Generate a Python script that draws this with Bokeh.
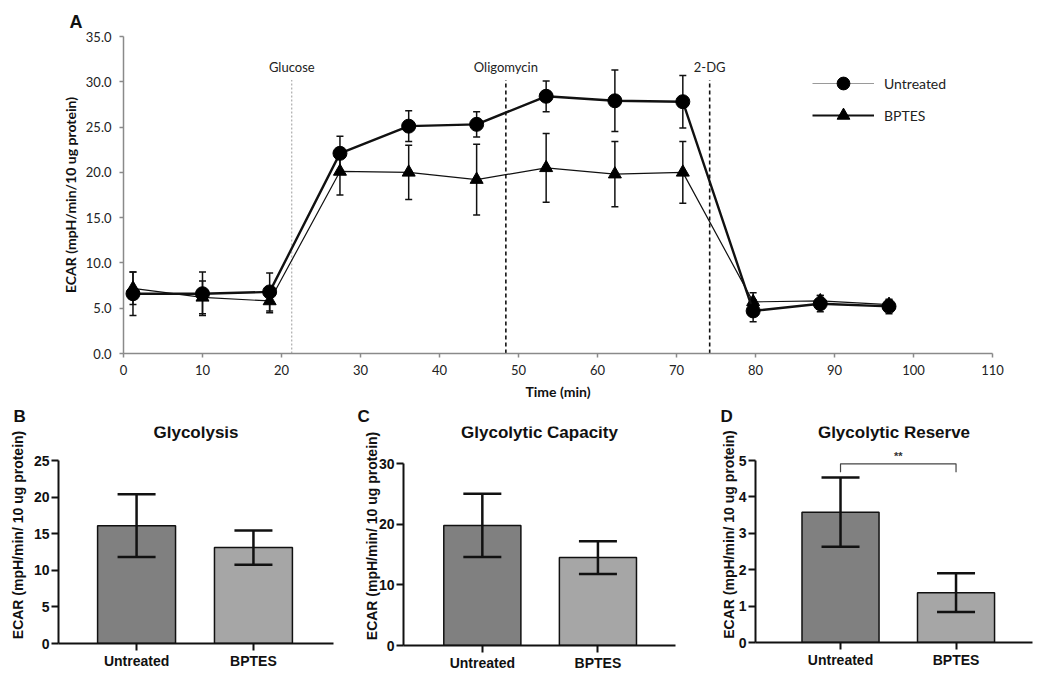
from bokeh.plotting import figure
from bokeh.layouts import column, row
from bokeh.models import (ColumnDataSource, Whisker, TeeHead, Legend, LegendItem,
                          SingleIntervalTicker, FixedTicker, NumeralTickFormatter, Range1d)
from bokeh.core.properties import value
from bokeh.embed import file_html
from bokeh.resources import INLINE

# ---------------- data: panel A (ECAR time course) ----------------
time_min = [1.2, 10.0, 18.5, 27.4, 36.1, 44.7, 53.5, 62.2, 70.8, 79.7, 88.2, 96.9]
untreated = [6.6, 6.6, 6.8, 22.1, 25.1, 25.3, 28.4, 27.9, 27.8, 4.7, 5.5, 5.2]
untreated_err = [2.4, 2.4, 2.1, 1.9, 1.7, 1.4, 1.7, 3.4, 2.9, 1.2, 0.9, 0.8]
bptes = [7.2, 6.2, 5.8, 20.1, 20.0, 19.2, 20.5, 19.8, 20.0, 5.7, 5.8, 5.4]
bptes_err = [1.8, 1.8, 1.3, 2.6, 3.0, 3.9, 3.8, 3.6, 3.4, 1.0, 0.6, 0.5]
injection_names = ["Glucose", "Oligomycin", "2-DG"]
injection_times = [21.3, 48.4, 74.2]

# ---------------- data: panels B-D ----------------
groups = ["Untreated", "BPTES"]
glycolysis = [16.1, 13.1]
glycolysis_err = [4.3, 2.35]
capacity = [19.8, 14.5]
capacity_err = [5.2, 2.7]
reserve = [3.58, 1.37]
reserve_err = [0.95, 0.53]
bar_colors = ["#808080", "#a6a6a6"]
significance = "**"

TOPFONT = "Lato"
ARIAL = "Liberation Sans"
NAN = float("nan")

# ---------------- panel A ----------------
pA = figure(frame_width=869, frame_height=317, min_border_left=123, min_border_right=50,
            min_border_top=36, min_border_bottom=50, x_range=Range1d(0, 110),
            y_range=Range1d(0, 35), output_backend="svg", toolbar_location=None)
pA.outline_line_color = None
pA.grid.visible = False
pA.title.text = "A"
pA.title.align = "left"
pA.title.offset = -54
pA.title.standoff = 10
pA.title.text_font = ARIAL
pA.title.text_font_size = "18px"
pA.title.text_font_style = "bold"
pA.title.text_color = "#111111"

for ax in (pA.xaxis[0], pA.yaxis[0]):
    ax.axis_line_color = "#8a8a8a"
    ax.axis_line_width = 1.5
    ax.major_tick_line_color = "#8a8a8a"
    ax.major_tick_line_width = 1.5
    ax.major_tick_in = 0
    ax.major_tick_out = 4
    ax.minor_tick_line_color = None
    ax.major_label_text_font = TOPFONT
    ax.major_label_text_font_size = "13px"
    ax.major_label_text_color = "#222222"
    ax.axis_label_text_font = TOPFONT
    ax.axis_label_text_font_style = "bold"
    ax.axis_label_text_font_size = "14px"
    ax.axis_label_text_color = "#111111"

pA.xaxis.ticker = SingleIntervalTicker(interval=10)
pA.yaxis.ticker = SingleIntervalTicker(interval=5)
pA.yaxis.formatter = NumeralTickFormatter(format="0.0")
pA.xaxis.axis_label = "Time (min)"
pA.yaxis.axis_label = "ECAR (mpH/min/10 ug protein)"
pA.xaxis.major_label_standoff = 7
pA.xaxis.axis_label_standoff = 5
pA.yaxis.major_label_standoff = 8
pA.yaxis.axis_label_standoff = 4

# injection lines
inj_colors = ["#9a9a9a", "#111111", "#111111"]
inj_widths = [1, 1.6, 1.6]
inj_dashes = ["2 2", "4 3", "4 3"]
for t, c, w, d in zip(injection_times, inj_colors, inj_widths, inj_dashes):
    pA.segment(x0=t, y0=0, x1=t, y1=30.2, line_color=c, line_width=w, line_dash=d)
inj_src = ColumnDataSource(dict(x=injection_times, ty=[31.6] * len(injection_times),
                                name=injection_names))
pA.text(x="x", y="ty", text="name", source=inj_src, text_align="center",
        text_baseline="middle", text_font=value(TOPFONT), text_font_size="13px",
        text_color="#222222")

srcU = ColumnDataSource(dict(x=time_min, y=untreated,
                             lo=[v - e for v, e in zip(untreated, untreated_err)],
                             hi=[v + e for v, e in zip(untreated, untreated_err)]))
srcB = ColumnDataSource(dict(x=time_min, y=bptes,
                             lo=[v - e for v, e in zip(bptes, bptes_err)],
                             hi=[v + e for v, e in zip(bptes, bptes_err)]))

for src in (srcB, srcU):
    w = Whisker(source=src, base="x", upper="hi", lower="lo", dimension="height",
                line_color="#111111", line_width=1.5,
                upper_head=TeeHead(size=7, line_color="#111111", line_width=1.5),
                lower_head=TeeHead(size=7, line_color="#111111", line_width=1.5))
    pA.add_layout(w)

pA.line("x", "y", source=srcB, line_color="#111111", line_width=1.2)
pA.scatter("x", "y", source=srcB, marker="triangle", size=13, fill_color="black",
           line_color="black")
pA.line("x", "y", source=srcU, line_color="#111111", line_width=2.4)
pA.scatter("x", "y", source=srcU, marker="circle", size=14, fill_color="black",
           line_color="black")

# legend glyphs (not drawn in the plot area: NaN coordinates)
lgU_line = pA.line(x=[NAN], y=[NAN], line_color="#9a9a9a", line_width=1.2)
lgU_mark = pA.scatter(x=[NAN], y=[NAN], marker="circle", fill_color="black", line_color="black")
lgB_line = pA.line(x=[NAN], y=[NAN], line_color="#111111", line_width=2)
lgB_mark = pA.scatter(x=[NAN], y=[NAN], marker="triangle", fill_color="black", line_color="black")
legend = Legend(items=[LegendItem(label="Untreated", renderers=[lgU_line, lgU_mark]),
                       LegendItem(label="BPTES", renderers=[lgB_line, lgB_mark])],
                location=(689, 222), glyph_width=62, glyph_height=32, spacing=-4,
                padding=0, margin=0, border_line_color=None, background_fill_alpha=0,
                label_standoff=10, label_text_font=TOPFONT, label_text_font_size="14px",
                label_text_color="#222222", label_text_baseline="middle")
pA.add_layout(legend)


# ---------------- bar panels ----------------
# Each plot area reaches up to the panel title; the y axis itself stops at ymax.
ROW_TOP_BORDER = 22


def bar_panel(title, letter, letter_offset, vals, errs, ymax, yint, xr, frame_w,
              axis_px, total_px, title_px, mleft, mright, mbottom, ylab_standoff):
    xs = [i + 0.5 for i in range(len(groups))]
    y_end = ymax * total_px / axis_px
    p = figure(frame_width=frame_w, frame_height=total_px, min_border_left=mleft,
               min_border_right=mright, min_border_top=ROW_TOP_BORDER, min_border_bottom=mbottom,
               x_range=Range1d(*xr), y_range=Range1d(0, y_end),
               output_backend="svg", toolbar_location=None)
    p.outline_line_color = None
    p.grid.visible = False
    # panel letter
    p.title.text = letter
    p.title.align = "left"
    p.title.offset = letter_offset
    p.title.standoff = 2
    p.title.text_font = ARIAL
    p.title.text_font_size = "17px"
    p.title.text_font_style = "bold"
    p.title.text_color = "#111111"
    # panel title, centred over the plot area
    p.text(x=[(xr[0] + xr[1]) / 2], y=[ymax * title_px / axis_px], text=[title],
           text_align="center", text_baseline="middle", text_font=value(ARIAL),
           text_font_style="bold", text_font_size="17px", text_color="#111111")
    src = ColumnDataSource(dict(x=xs, top=vals, color=bar_colors,
                                lo=[v - e for v, e in zip(vals, errs)],
                                hi=[v + e for v, e in zip(vals, errs)]))
    p.vbar(x="x", top="top", width=0.667, bottom=0, source=src, fill_color="color",
           line_color="#111111", line_width=1.5)
    w = Whisker(source=src, base="x", upper="hi", lower="lo", dimension="height",
                line_color="#111111", line_width=2.5, level="overlay",
                upper_head=TeeHead(size=38, line_color="#111111", line_width=2.5),
                lower_head=TeeHead(size=38, line_color="#111111", line_width=2.5))
    p.add_layout(w)
    for ax in (p.xaxis[0], p.yaxis[0]):
        ax.axis_line_color = "#111111"
        ax.axis_line_width = 2
        ax.major_tick_line_color = "#111111"
        ax.major_tick_line_width = 2
        ax.major_tick_in = 0
        ax.major_tick_out = 7
        ax.minor_tick_line_color = None
        ax.major_label_text_font = ARIAL
        ax.major_label_text_font_style = "bold"
        ax.major_label_text_font_size = "14px"
        ax.major_label_text_color = "#111111"
    p.xaxis.ticker = FixedTicker(ticks=xs)
    p.xaxis.major_label_overrides = {x: g for x, g in zip(xs, groups)}
    p.xaxis.major_label_standoff = 2
    p.yaxis.ticker = SingleIntervalTicker(interval=yint)
    p.yaxis.bounds = (0, ymax)
    p.yaxis.major_label_standoff = 2
    p.yaxis.axis_label = "ECAR (mpH/min/ 10 ug protein)"
    p.yaxis.axis_label_text_font = ARIAL
    p.yaxis.axis_label_text_font_style = "bold"
    p.yaxis.axis_label_text_font_size = "14px"
    p.yaxis.axis_label_text_color = "#111111"
    p.yaxis.axis_label_standoff = ylab_standoff
    return p, xs


pB, _ = bar_panel("Glycolysis", "B", -45, glycolysis, glycolysis_err, 25, 5,
                  (-0.168, 2.185), 275, 183, 217, 211, 58, 17, 24, 5)
pC, _ = bar_panel("Glycolytic Capacity", "C", -46, capacity, capacity_err, 30, 10,
                  (-0.182, 2.171), 272, 182, 219, 213, 53, 22, 22, -4)
pD, xsD = bar_panel("Glycolytic Reserve", "D", -35, reserve, reserve_err, 5, 1,
                    (-0.236, 2.162), 277, 182, 216, 210, 58, 10, 25, -1)

# significance bracket on panel D
pD.line(x=[xsD[0], xsD[0], xsD[1], xsD[1]], y=[4.68, 4.91, 4.91, 4.68],
        line_color="#444444", line_width=1.2)
pD.text(x=[(xsD[0] + xsD[1]) / 2], y=[5.12], text=[significance], text_align="center",
        text_baseline="middle", text_font=value(ARIAL), text_font_style="bold",
        text_font_size="11px", text_color="#333333")

layout = column(pA, row(pB, pC, pD))
open("out.html", "w").write(file_html(layout, INLINE))
